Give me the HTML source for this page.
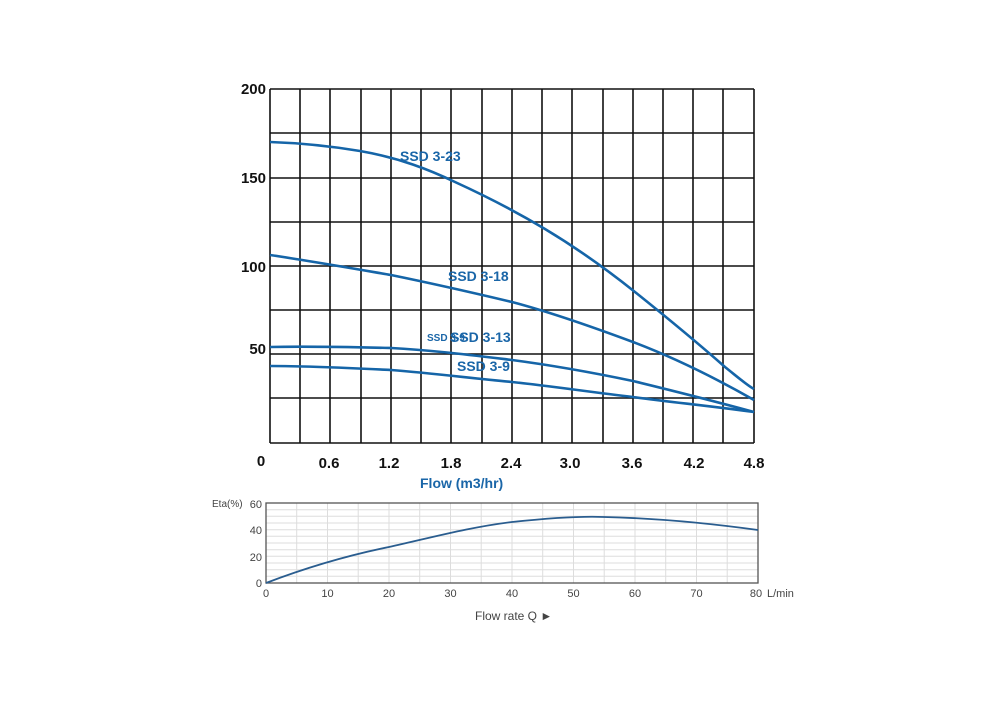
<!DOCTYPE html>
<html><head><style>
html,body{margin:0;padding:0;background:#fff;}
</style></head><body>
<svg width="1000" height="712" xmlns="http://www.w3.org/2000/svg" style="display:block">
<rect width="1000" height="712" fill="#fff"/>
<g stroke="#111" stroke-width="1.6" fill="none">
<line x1="270" y1="89" x2="754" y2="89"/>
<line x1="270" y1="133" x2="754" y2="133"/>
<line x1="270" y1="178" x2="754" y2="178"/>
<line x1="270" y1="222" x2="754" y2="222"/>
<line x1="270" y1="266" x2="754" y2="266"/>
<line x1="270" y1="310" x2="754" y2="310"/>
<line x1="270" y1="354" x2="754" y2="354"/>
<line x1="270" y1="398" x2="754" y2="398"/>
<line x1="270" y1="443" x2="754" y2="443"/>
<line x1="270" y1="89" x2="270" y2="443"/>
<line x1="300" y1="89" x2="300" y2="443"/>
<line x1="330" y1="89" x2="330" y2="443"/>
<line x1="361" y1="89" x2="361" y2="443"/>
<line x1="391" y1="89" x2="391" y2="443"/>
<line x1="421" y1="89" x2="421" y2="443"/>
<line x1="451" y1="89" x2="451" y2="443"/>
<line x1="482" y1="89" x2="482" y2="443"/>
<line x1="512" y1="89" x2="512" y2="443"/>
<line x1="542" y1="89" x2="542" y2="443"/>
<line x1="572" y1="89" x2="572" y2="443"/>
<line x1="603" y1="89" x2="603" y2="443"/>
<line x1="633" y1="89" x2="633" y2="443"/>
<line x1="663" y1="89" x2="663" y2="443"/>
<line x1="693" y1="89" x2="693" y2="443"/>
<line x1="723" y1="89" x2="723" y2="443"/>
<line x1="754" y1="89" x2="754" y2="443"/>
</g>
<g stroke="#1565a8" stroke-width="2.6" fill="none" stroke-linejoin="round">
<path d="M270,142 C300,143 330,146 360,151 C400,158 430,170 455,182 C490,198 520,214 545,229 C580,250 610,272 635,292 C670,320 700,345 725,367 C740,379 748,386 754,389"/>
<path d="M270,255 C310,261 350,268 391,275 C430,283 470,292 512,302 C550,312 590,326 633,342 C670,356 710,375 754,400"/>
<path d="M270,347 C310,346 350,347 391,348 C430,350 470,355 512,360 C550,365 590,372 633,381 C670,390 710,400 754,412"/>
<path d="M270,366 C310,366 350,368 391,370 C430,373 470,378 512,382 C550,386 590,392 633,397 C670,402 710,406 754,412"/>
</g>
<g font-family="Liberation Sans, sans-serif" font-weight="bold" font-size="15" fill="#111" text-anchor="end">
<text x="266" y="94">200</text>
<text x="266" y="183">150</text>
<text x="266" y="272">100</text>
<text x="266" y="354">50</text>
</g>
<g font-family="Liberation Sans, sans-serif" font-weight="bold" font-size="15" fill="#111" text-anchor="middle">
<text x="261" y="466">0</text>
<text x="329" y="468">0.6</text>
<text x="389" y="468">1.2</text>
<text x="451" y="468">1.8</text>
<text x="511" y="468">2.4</text>
<text x="570" y="468">3.0</text>
<text x="632" y="468">3.6</text>
<text x="694" y="468">4.2</text>
<text x="754" y="468">4.8</text>
</g>
<g font-family="Liberation Sans, sans-serif" font-weight="bold" fill="#1a66a8">
<text x="420" y="488" font-size="14">Flow (m3/hr)</text>
<text x="400" y="161" font-size="14">SSD 3-23</text>
<text x="448" y="281" font-size="14">SSD 3-18</text>
<text x="427" y="341" font-size="10">SSD 3-9</text>
<text x="450" y="342" font-size="14">SSD 3-13</text>
<text x="457" y="371" font-size="14">SSD 3-9</text>
</g>
<g stroke="#ddd" stroke-width="1">
<line x1="266" y1="509.7" x2="758" y2="509.7"/><line x1="266" y1="516.3" x2="758" y2="516.3"/>
<line x1="266" y1="523" x2="758" y2="523"/><line x1="266" y1="529.7" x2="758" y2="529.7"/>
<line x1="266" y1="536.3" x2="758" y2="536.3"/><line x1="266" y1="543" x2="758" y2="543"/>
<line x1="266" y1="549.7" x2="758" y2="549.7"/><line x1="266" y1="556.3" x2="758" y2="556.3"/>
<line x1="266" y1="563" x2="758" y2="563"/><line x1="266" y1="569.7" x2="758" y2="569.7"/>
<line x1="266" y1="576.3" x2="758" y2="576.3"/>
<line x1="296.7" y1="503" x2="296.7" y2="583"/><line x1="327.5" y1="503" x2="327.5" y2="583"/>
<line x1="358.2" y1="503" x2="358.2" y2="583"/><line x1="389" y1="503" x2="389" y2="583"/>
<line x1="419.7" y1="503" x2="419.7" y2="583"/><line x1="450.5" y1="503" x2="450.5" y2="583"/>
<line x1="481.2" y1="503" x2="481.2" y2="583"/><line x1="512" y1="503" x2="512" y2="583"/>
<line x1="542.7" y1="503" x2="542.7" y2="583"/><line x1="573.5" y1="503" x2="573.5" y2="583"/>
<line x1="604.2" y1="503" x2="604.2" y2="583"/><line x1="635" y1="503" x2="635" y2="583"/>
<line x1="665.7" y1="503" x2="665.7" y2="583"/><line x1="696.5" y1="503" x2="696.5" y2="583"/>
<line x1="727.2" y1="503" x2="727.2" y2="583"/>
</g>
<rect x="266" y="503" width="492" height="80" fill="none" stroke="#555" stroke-width="1.3"/>
<path d="M266,583 C300,570 340,557 389,547 C430,538 470,527 512,522 C550,518 580,516 604,517 C650,518 700,522 758,530" fill="none" stroke="#2a5d8f" stroke-width="1.8"/>
<g font-family="Liberation Sans, sans-serif" font-size="11" fill="#444">
<text x="212" y="507" font-size="10">Eta(%)</text>
<g text-anchor="end"><text x="262" y="508">60</text><text x="262" y="534">40</text><text x="262" y="561">20</text><text x="262" y="587">0</text></g>
<g text-anchor="middle">
<text x="266" y="597">0</text><text x="327.5" y="597">10</text><text x="389" y="597">20</text><text x="450.5" y="597">30</text>
<text x="512" y="597">40</text><text x="573.5" y="597">50</text><text x="635" y="597">60</text><text x="696.5" y="597">70</text><text x="756" y="597">80</text>
</g>
<text x="767" y="597">L/min</text>
<text x="475" y="620" font-size="12">Flow rate Q ►</text>
</g>
</svg>
</body></html>
